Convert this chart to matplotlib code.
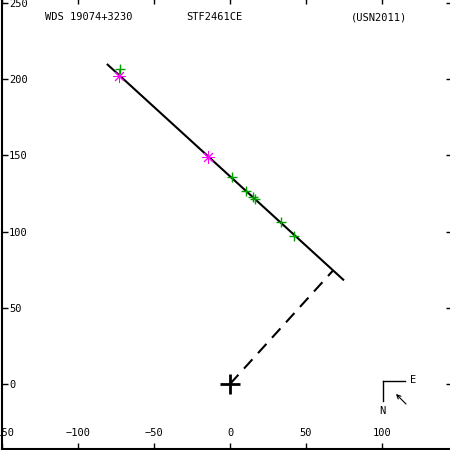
import numpy as np
import matplotlib
matplotlib.use("Agg")
import matplotlib.pyplot as plt

# Linear fit line endpoints (x, y)
line_x = [-81.0, 75.0]
line_y = [210.0, 68.0]

# Green measurements
green_x = [-72.2, 1.1, 10.5, 15.3, 16.4, 33.6, 42.3]
green_y = [206.5, 135.6, 126.4, 122.9, 121.1, 106.1, 97.3]

# Magenta measurements
mag_x = [-72.8, -14.3]
mag_y = [202.3, 149.2]

xticks = [-150, -100, -50, 0, 50, 100]
yticks = [0, 50, 100, 150, 200, 250]
ytick_labels = ["0", "50", "100", "150", "200", "250"]

title_left = "WDS 19074+3230"
title_mid = "STF2461CE"
title_right = "(USN2011)"

font = "DejaVu Sans Mono"
fs = 7.5

fig = plt.figure(figsize=(4.5, 4.5), dpi=100)
ax = fig.add_axes([2 / 450, 1.5 / 450, 1.0, 1.0])
scale = 1.52
ax.set_xlim(-150, -150 + 450 / scale)
ax.set_ylim((384 - 448.5) / 1.524, (384 - 448.5) / 1.524 + 450 / 1.524)

for s in ["top", "right"]:
    ax.spines[s].set_visible(False)
for s in ["left", "bottom"]:
    ax.spines[s].set_linewidth(1.5)

ax.set_xticks(xticks)
ax.set_xticklabels([str(v).replace("-", "\u2212") for v in xticks], fontfamily=font, fontsize=fs)
ax.set_yticks(yticks)
ax.set_yticklabels(ytick_labels, fontfamily=font, fontsize=fs)
ax.tick_params(axis="both", direction="in", length=4, width=1,
               top=True, right=True, bottom=True, left=True)
ax.tick_params(axis="x", pad=-15)
ax.tick_params(axis="y", pad=-5)
for lab in ax.get_yticklabels():
    lab.set_ha("left")

# fit line
ax.plot(line_x, line_y, color="black", lw=1.5, solid_capstyle="butt")

# perpendicular foot from origin
p0 = np.array([line_x[0], line_y[0]])
d = np.array([line_x[1] - line_x[0], line_y[1] - line_y[0]])
t = -(p0 @ d) / (d @ d)
foot = p0 + t * d
ax.plot([0, foot[0]], [0, foot[1]], color="black", lw=1.5, ls=(0, (6, 4)))

# origin marker
ax.plot([0], [0], marker="+", color="black", ms=14, mew=2)

# measurements
ax.plot(green_x, green_y, ls="none", marker="+", color="#00a000", ms=7, mew=1)
ax.plot(mag_x, mag_y, ls="none", marker=(8, 2, 0), color="#ff00ff", ms=9, mew=0.7)

# titles
ax.text(45 / 450, 1 - 17 / 450, title_left, transform=fig.transFigure, fontfamily=font,
        fontsize=fs, va="center", ha="left")
ax.text(186 / 450, 1 - 17 / 450, title_mid, transform=fig.transFigure, fontfamily=font,
        fontsize=fs, va="center", ha="left")
ax.text(351 / 450, 1 - 17 / 450, title_right, transform=fig.transFigure, fontfamily=font,
        fontsize=fs, va="center", ha="left")

# compass (figure pixel coords)
tf = fig.transFigure
def P(x, y):
    return x / 450, 1 - y / 450
cx, cy = P(383, 381)
ex, _ = P(405, 381)
_, ny = P(383, 401)
fig.add_artist(plt.Line2D([cx, ex], [cy, cy], color="black", lw=1, transform=tf))
fig.add_artist(plt.Line2D([cx, cx], [cy, ny], color="black", lw=1, transform=tf))
fig.text(*P(413, 380), "E", fontfamily=font, fontsize=fs, ha="center", va="center")
fig.text(*P(382, 411), "N", fontfamily=font, fontsize=fs, ha="center", va="center")
ax.annotate("", xy=P(394, 392), xytext=P(408, 406), xycoords=tf, textcoords=tf,
            arrowprops=dict(arrowstyle="->", lw=0.8, color="black", mutation_scale=7))

fig.savefig("out.png", dpi=100)
